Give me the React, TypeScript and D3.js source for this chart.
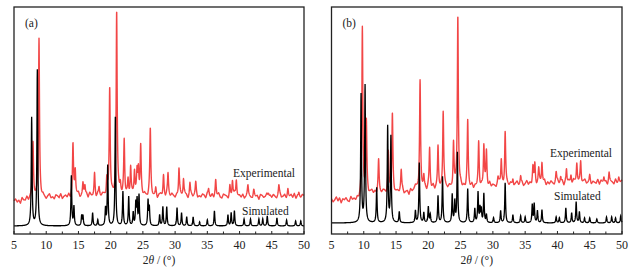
import React from "react";
import * as d3 from "d3";

// ---- data (intensity in arbitrary units) ----
const TICKS_MAJOR = [5, 10, 15, 20, 25, 30, 35, 40, 45, 50];
const TICKS_MINOR = [7.5, 12.5, 17.5, 22.5, 27.5, 32.5, 37.5, 42.5, 47.5];

// Panel (a)
const simPeaksA: [number, number][] = [
  [7.74, 108], [8.62, 156], [13.9, 50], [14.3, 19], [15.5, 10], [15.7, 10],
  [17.2, 13], [18.0, 6], [19.2, 17], [19.54, 60], [20.73, 110], [21.9, 34],
  [22.8, 29], [23.5, 13], [23.9, 22], [24.1, 25], [24.4, 30], [25.8, 25],
  [26.0, 18], [27.6, 11], [28.1, 19], [28.7, 19], [30.3, 18], [31.0, 13],
  [31.8, 9], [32.8, 9], [33.8, 4], [35.0, 6], [36.1, 15], [38.2, 11],
  [38.7, 13], [39.2, 15], [40.7, 7], [41.7, 7], [43.0, 7], [43.6, 7],
  [44.3, 10], [45.8, 8], [47.3, 6], [48.7, 5], [49.5, 5],
];
const expPeaksA: [number, number][] = [
  [7.95, 56], [8.88, 160], [14.15, 51], [14.5, 26], [15.7, 12], [16.0, 11],
  [17.5, 22], [18.2, 8], [19.4, 15], [19.85, 108], [20.93, 184], [21.5, 10],
  [22.1, 55], [22.7, 15], [23.1, 29], [23.7, 24], [24.1, 22], [24.3, 26],
  [24.66, 49], [26.15, 66], [27.0, 6], [28.2, 21], [28.9, 21], [30.6, 27],
  [31.3, 18], [32.3, 13], [33.2, 12], [35.2, 7], [36.3, 16], [38.5, 9],
  [38.9, 15], [39.5, 18], [41.3, 9], [42.2, 6], [44.5, 5], [46.1, 10],
  [47.5, 7], [49.2, 4],
];
const expBackgroundA: [number, number][] = [
  [5, 33], [6, 32.5], [7, 35], [8, 36], [10, 36.5], [12, 37], [15, 38],
  [20, 38], [30, 38], [40, 37.5], [50, 37.5],
];
// jitter of the measured trace, every 0.25° from 5° to 50°
const expJitterA = [
  0, 2, -1, 1, -2, 3, 0, -1, 2, -2, 1, 3, -1, 0, 2, -3, 1, -1, 2, 0,
  -2, 1, 3, -1, 0, -2, 2, 1, -1, 3, -2, 0, 1, -1, 2, -3, 0, 2, -1, 1,
  3, -2, 0, 1, -1, 2, -2, 3, 0, -1, 1, -3, 2, 0, -1, 2, 1, -2, 3, -1,
  0, 2, -1, -2, 1, 3, 0, -1, 2, -2, 1, 0, -3, 2, 1, -1, 3, -2, 0, 1,
  -1, 2, 0, -2, 3, 1, -1, 0, 2, -3, 1, 2, -1, 0, -2, 3, 1, -1, 2, 0,
  -2, 1, -1, 3, 0, -2, 2, 1, -3, 0, 2, -1, 1, 3, -2, 0, -1, 2, 1, -2,
  3, 0, -1, 2, -2, 1, 0, 3, -1, -2, 2, 1, 0, -3, 2, -1, 1, 3, -2, 0,
  1, -1, 2, -2, 0, 3, 1, -1, -2, 2, 0, 1, -3, 2, 1, -1, 0, 3, -2, 1,
  -1, 2, 0, -2, 1, 3, -1, 0, 2, -2, 1, 0, 2, -1, 3, -2, 1, 0, -1, 2, 1,
];

// Panel (b)
const simPeaksB: [number, number][] = [
  [9.58, 128], [10.2, 137], [12.0, 35], [13.7, 96], [14.2, 86], [15.5, 11],
  [18.0, 12], [18.6, 60], [19.3, 10], [20.0, 16], [20.3, 8], [21.5, 27],
  [22.2, 46], [23.7, 28], [24.1, 21], [24.5, 70], [26.1, 34], [27.2, 14],
  [27.7, 30], [28.0, 14], [28.2, 13], [28.6, 29], [29.0, 8], [30.1, 5],
  [31.2, 12], [31.9, 40], [33.1, 8], [34.3, 7], [35.0, 6], [36.1, 18],
  [36.4, 19], [36.9, 12], [37.6, 13], [39.8, 6], [40.3, 5], [41.3, 15],
  [42.2, 10], [42.9, 21], [43.4, 11], [44.2, 5], [45.0, 5], [46.1, 4],
  [47.6, 6], [48.4, 6], [49.0, 5], [49.8, 7],
];
const expPeaksB: [number, number][] = [
  [9.78, 166], [10.4, 70], [12.3, 31], [13.8, 40], [14.43, 77], [15.8, 20],
  [18.72, 107], [19.3, 12], [20.2, 40], [21.5, 40], [22.3, 77], [23.9, 45],
  [24.57, 173], [26.1, 66], [27.8, 44], [28.6, 40], [29.0, 35], [30.8, 6],
  [31.3, 26], [31.9, 53], [33.1, 6], [34.3, 8], [36.2, 16], [36.5, 20],
  [37.1, 14], [37.6, 21], [39.8, 10], [40.5, 6], [41.4, 14], [42.1, 8],
  [43.0, 20], [43.6, 21], [45.0, 6], [47.2, 6], [48.0, 8], [49.5, 4],
];
const expBackgroundB: [number, number][] = [
  [5, 34], [9, 34], [10.5, 41], [17, 42], [18, 45], [25, 46], [30, 48],
  [35, 50], [40, 51], [50, 52],
];
const expJitterB = [
  1, -2, 0, 3, -1, 2, -3, 1, 0, 2, -1, -2, 3, 0, 1, -1, 2, -2, 0, 3,
  -1, 1, 2, -3, 0, 2, -1, 1, -2, 3, 0, -1, 2, 1, -3, 0, 2, -1, 3, -2,
  0, 1, -1, 2, 3, -2, 0, 1, -3, 2, -1, 0, 3, 1, -2, 2, -1, 0, 1, -3,
  2, 0, -1, 3, -2, 1, 2, -1, 0, -2, 3, 1, -1, 2, 0, -3, 1, 2, -2, 0,
  3, -1, 1, -2, 2, 0, -1, 3, -2, 1, 0, 2, -3, 1, -1, 2, 0, -2, 3, -1,
  1, 0, -2, 2, 3, -1, 0, -3, 2, 1, -1, 2, 0, -2, 1, 3, -1, 0, 2, -2,
  0, 3, -1, 1, -2, 2, 0, -3, 1, 2, -1, 0, 3, -2, 1, -1, 2, 0, -2, 1,
  3, -1, 0, 2, -3, 1, -1, 2, 0, -2, 3, 1, -1, 0, 2, -2, 1, 3, -1, 0,
  2, -2, 1, 0, -1, 3, -2, 2, 0, -1, 1, -3, 2, 1, 0, -2, 3, -1, 1, 0, 2,
];

const SIM_OFFSET_A = 8;
const SIM_OFFSET_B = 11;

// ---- helpers ----
const STEP = 0.02;
const grid: number[] = d3.range(5, 50 + STEP / 2, STEP);

function profile(peaks: [number, number][], x: number, w: number) {
  let s = 0;
  for (const [c, h] of peaks) {
    const t = (x - c) / w;
    s += h / (1 + t * t);
  }
  return s;
}

function simulated(peaks: [number, number][], offset: number) {
  return grid.map((x) => [x, offset + profile(peaks, x, 0.075)] as [number, number]);
}

function experimental(
  peaks: [number, number][],
  bg: [number, number][],
  jitter: number[]
) {
  const bgScale = d3.scaleLinear().domain(bg.map((d) => d[0])).range(bg.map((d) => d[1]));
  const jx = jitter.map((_, i) => 5 + i * 0.25);
  const jScale = d3.scaleLinear().domain(jx).range(jitter);
  return grid.map(
    (x) => [x, bgScale(x) + jScale(x) + profile(peaks, x, 0.09)] as [number, number]
  );
}

type PanelProps = {
  left: number;
  right: number;
  top: number;
  bottom: number;
  label: string;
  sim: [number, number][];
  exp: [number, number][];
  expLabel: [number, number];
  simLabel: [number, number];
};

function Panel({ left, right, top, bottom, label, sim, exp, expLabel, simLabel }: PanelProps) {
  const x = d3.scaleLinear().domain([5, 50]).range([left, right]);
  const y = d3.scaleLinear().domain([0, bottom - top]).range([bottom, top]);
  const line = d3
    .line<[number, number]>()
    .x((d) => x(d[0]))
    .y((d) => Math.max(top, y(d[1])));
  const font = "'Liberation Serif', 'Times New Roman', serif";
  return (
    <g>
      <path d={line(exp) || ""} fill="none" stroke="#f24646" strokeWidth={1.4} strokeLinejoin="round" />
      <path d={line(sim) || ""} fill="none" stroke="#000" strokeWidth={1.3} />
      <rect
        x={left}
        y={top}
        width={right - left}
        height={bottom - top}
        fill="none"
        stroke="#222"
        strokeWidth={1.3}
      />
      {TICKS_MAJOR.map((t) => (
        <g key={"M" + t}>
          <line x1={x(t)} x2={x(t)} y1={bottom} y2={bottom - 3} stroke="#222" strokeWidth={1} />
          <text
            x={x(t)}
            y={bottom + 15}
            textAnchor="middle"
            fontFamily={font}
            fontSize={12}
            fill="#222"
          >
            {t}
          </text>
        </g>
      ))}
      {TICKS_MINOR.map((t) => (
        <line key={"m" + t} x1={x(t)} x2={x(t)} y1={bottom} y2={bottom - 2.5} stroke="#222" strokeWidth={1} />
      ))}
      <text
        x={(left + right) / 2}
        y={bottom + 30}
        textAnchor="middle"
        fontFamily={font}
        fontSize={11.5}
        fill="#222"
      >
        2<tspan fontStyle="italic">θ</tspan> / (°)
      </text>
      <text x={left + 11} y={top + 20} fontFamily={font} fontSize={11.5} fill="#222">
        {label}
      </text>
      <text x={expLabel[0]} y={expLabel[1]} fontFamily={font} fontSize={11.5} fill="#222">
        Experimental
      </text>
      <text x={simLabel[0]} y={simLabel[1]} fontFamily={font} fontSize={11.5} fill="#222">
        Simulated
      </text>
    </g>
  );
}

export default function App() {
  const simA = simulated(simPeaksA, SIM_OFFSET_A);
  const expA = experimental(expPeaksA, expBackgroundA, expJitterA);
  const simB = simulated(simPeaksB, SIM_OFFSET_B);
  const expB = experimental(expPeaksB, expBackgroundB, expJitterB);
  return (
    <svg
      width={635}
      height={273}
      style={{ position: "absolute", left: 0, top: 0, background: "#fff" }}
    >
      <Panel
        left={14}
        right={304}
        top={7}
        bottom={234}
        label="(a)"
        sim={simA}
        exp={expA}
        expLabel={[233, 177]}
        simLabel={[242, 215]}
      />
      <Panel
        left={331.5}
        right={622}
        top={7}
        bottom={234}
        label="(b)"
        sim={simB}
        exp={expB}
        expLabel={[550, 157]}
        simLabel={[554, 200]}
      />
    </svg>
  );
}
